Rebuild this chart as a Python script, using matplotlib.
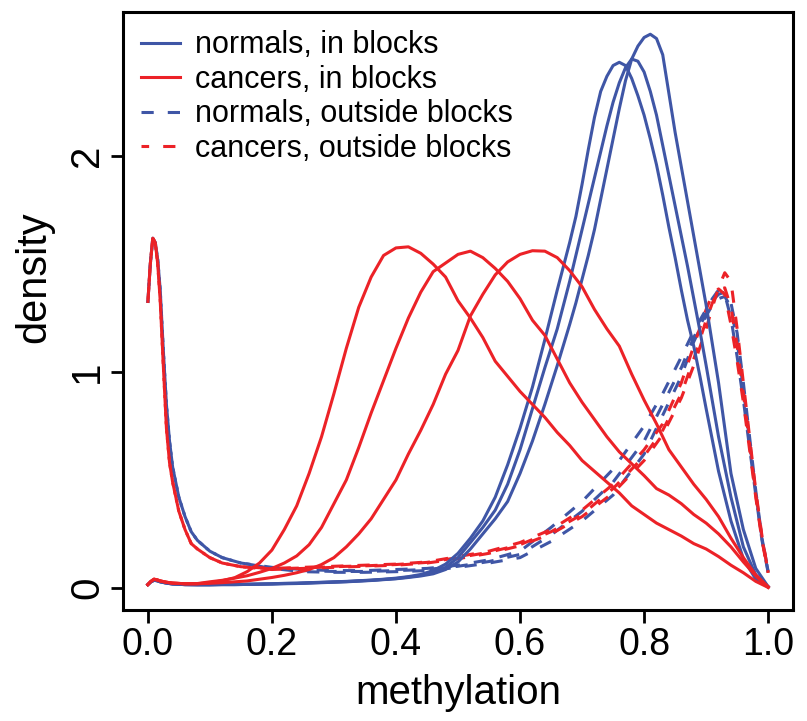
import matplotlib
matplotlib.use("Agg")
import matplotlib.pyplot as plt
import numpy as np

plt.rcParams['font.family'] = ['Liberation Sans', 'DejaVu Sans']

"""DATA (read off the reference picture)"""
# Methylation grid for the normal in-blocks curves (finer around the peaks)
xNormalsIn = [0.0, 0.005, 0.01, 0.015, 0.02, 0.03, 0.04, 0.06, 0.08,
              0.10, 0.12, 0.14, 0.16, 0.18, 0.20, 0.22, 0.24, 0.26, 0.28, 0.30, 0.32, 0.34, 0.36, 0.38,
              0.40, 0.42, 0.44, 0.46, 0.48, 0.50, 0.52, 0.54, 0.56, 0.58, 0.60, 0.62, 0.64, 0.66, 0.68,
              0.69, 0.70, 0.71, 0.72, 0.73, 0.74, 0.75, 0.76, 0.77, 0.78, 0.79, 0.80, 0.81, 0.82, 0.83,
              0.84, 0.85, 0.86, 0.87, 0.88, 0.89, 0.90, 0.92, 0.94, 0.96, 0.98, 1.0]

# Normals, in blocks (3 samples)
normalsInA = [0.015, 0.028, 0.035, 0.033, 0.028, 0.022, 0.018, 0.015, 0.015,
              0.015, 0.016, 0.016, 0.017, 0.018, 0.019, 0.021, 0.022, 0.024, 0.026, 0.028, 0.030, 0.033, 0.036, 0.040,
              0.045, 0.052, 0.062, 0.080, 0.110, 0.160, 0.230, 0.310, 0.420, 0.570, 0.740, 0.930, 1.150, 1.380, 1.600,
              1.72, 1.87, 2.03, 2.18, 2.30, 2.37, 2.42, 2.435, 2.42, 2.36, 2.28, 2.19, 2.08, 1.96, 1.82,
              1.67, 1.53, 1.38, 1.24, 1.12, 0.98, 0.83, 0.54, 0.31, 0.135, 0.04, 0.005]
normalsInB = [0.015, 0.028, 0.035, 0.033, 0.028, 0.022, 0.018, 0.015, 0.014,
              0.014, 0.015, 0.015, 0.016, 0.017, 0.018, 0.020, 0.021, 0.023, 0.025, 0.027, 0.029, 0.032, 0.035, 0.039,
              0.043, 0.050, 0.058, 0.070, 0.095, 0.140, 0.210, 0.280, 0.360, 0.480, 0.640, 0.830, 1.020, 1.200, 1.420,
              1.54, 1.66, 1.78, 1.90, 2.02, 2.14, 2.25, 2.34, 2.41, 2.45, 2.44, 2.39, 2.30, 2.19, 2.05,
              1.91, 1.77, 1.63, 1.49, 1.34, 1.19, 1.03, 0.70, 0.42, 0.19, 0.06, 0.005]
normalsInC = [0.015, 0.028, 0.035, 0.033, 0.028, 0.022, 0.018, 0.015, 0.014,
              0.014, 0.015, 0.015, 0.016, 0.017, 0.018, 0.019, 0.020, 0.022, 0.024, 0.026, 0.028, 0.031, 0.034, 0.038,
              0.042, 0.048, 0.055, 0.065, 0.085, 0.120, 0.180, 0.250, 0.320, 0.400, 0.530, 0.680, 0.850, 1.030, 1.220,
              1.32, 1.43, 1.54, 1.66, 1.80, 1.94, 2.08, 2.22, 2.35, 2.45, 2.51, 2.55, 2.565, 2.545, 2.47,
              2.29, 2.11, 1.95, 1.79, 1.63, 1.47, 1.31, 0.95, 0.53, 0.27, 0.09, 0.005]

# Methylation grid for the cancer in-blocks curves
xCancersIn = [0.0, 0.005, 0.01, 0.015, 0.02, 0.03, 0.04, 0.06, 0.08,
              0.10, 0.12, 0.14, 0.16, 0.18, 0.20, 0.22, 0.24, 0.26, 0.28, 0.30, 0.32, 0.34, 0.36, 0.38,
              0.40, 0.42, 0.44, 0.46, 0.48, 0.50, 0.52, 0.54, 0.56, 0.58, 0.60, 0.62, 0.64, 0.66, 0.68,
              0.70, 0.72, 0.74, 0.76, 0.78, 0.80, 0.82, 0.84, 0.86, 0.88, 0.90, 0.92, 0.94, 0.96, 0.98, 1.0]

# Cancers, in blocks (3 samples)
cancersInA = [0.015, 0.030, 0.040, 0.037, 0.032, 0.026, 0.022, 0.019, 0.019,
              0.024, 0.033, 0.047, 0.075, 0.115, 0.175, 0.270, 0.380, 0.530, 0.700, 0.900, 1.110, 1.300, 1.440, 1.540,
              1.575, 1.580, 1.550, 1.500, 1.440, 1.330, 1.250, 1.160, 1.050, 0.980, 0.910, 0.850, 0.790, 0.720, 0.660,
              0.590, 0.540, 0.490, 0.440, 0.380, 0.340, 0.300, 0.270, 0.240, 0.205, 0.180, 0.145, 0.105, 0.070, 0.030, 0.002]
cancersInB = [0.015, 0.030, 0.040, 0.037, 0.032, 0.026, 0.022, 0.019, 0.020,
              0.028, 0.035, 0.045, 0.056, 0.072, 0.090, 0.115, 0.148, 0.200, 0.280, 0.390, 0.500, 0.650, 0.810, 0.960,
              1.110, 1.250, 1.370, 1.465, 1.505, 1.545, 1.560, 1.530, 1.480, 1.420, 1.340, 1.240, 1.170, 1.060, 0.950,
              0.860, 0.780, 0.700, 0.630, 0.575, 0.520, 0.460, 0.430, 0.390, 0.340, 0.300, 0.250, 0.190, 0.120, 0.055, 0.002]
cancersInC = [0.015, 0.030, 0.040, 0.037, 0.032, 0.026, 0.022, 0.019, 0.019,
              0.021, 0.024, 0.028, 0.032, 0.040, 0.048, 0.058, 0.070, 0.085, 0.108, 0.140, 0.190, 0.250, 0.320, 0.410,
              0.500, 0.620, 0.730, 0.850, 0.990, 1.100, 1.260, 1.360, 1.450, 1.510, 1.545, 1.562, 1.560, 1.530, 1.470,
              1.395, 1.290, 1.200, 1.120, 0.990, 0.870, 0.760, 0.640, 0.560, 0.480, 0.410, 0.330, 0.230, 0.140, 0.060, 0.005]

# Methylation grid for the outside-blocks curves
xDashed = [0.0, 0.004, 0.008, 0.012, 0.016, 0.02, 0.025, 0.03, 0.035, 0.04, 0.05, 0.06, 0.07, 0.08,
           0.1, 0.12, 0.15, 0.2, 0.25, 0.3, 0.35, 0.4, 0.45, 0.5, 0.55, 0.6, 0.65, 0.7, 0.75,
           0.8, 0.83, 0.86, 0.88, 0.9, 0.91, 0.92, 0.93, 0.94, 0.95, 0.96, 0.97, 0.98, 0.99, 1.0]

# Normals, outside blocks
normalsOutA = [1.32, 1.5, 1.62, 1.6, 1.52, 1.38, 1.1, 0.85, 0.68, 0.56, 0.42, 0.33, 0.26, 0.22,
               0.17, 0.14, 0.115, 0.095, 0.085, 0.08, 0.08, 0.085, 0.09, 0.105, 0.13, 0.17, 0.28, 0.4, 0.55,
               0.75, 0.9, 1.07, 1.19, 1.29, 1.34, 1.38, 1.36, 1.25, 1.07, 0.87, 0.65, 0.43, 0.22, 0.07]
normalsOutB = [1.32, 1.5, 1.62, 1.6, 1.52, 1.38, 1.1, 0.85, 0.68, 0.56, 0.42, 0.33, 0.26, 0.22,
               0.17, 0.14, 0.115, 0.09, 0.075, 0.072, 0.072, 0.075, 0.08, 0.095, 0.115, 0.14, 0.215, 0.31, 0.43,
               0.62, 0.8, 0.98, 1.14, 1.26, 1.31, 1.34, 1.35, 1.3, 1.14, 0.92, 0.68, 0.44, 0.23, 0.08]
normalsOutC = [1.32, 1.5, 1.62, 1.6, 1.52, 1.38, 1.1, 0.85, 0.68, 0.56, 0.42, 0.33, 0.26, 0.22,
               0.17, 0.14, 0.115, 0.092, 0.08, 0.076, 0.076, 0.08, 0.085, 0.1, 0.122, 0.155, 0.245, 0.355, 0.49,
               0.68, 0.85, 1.02, 1.16, 1.27, 1.33, 1.36, 1.37, 1.32, 1.18, 0.95, 0.7, 0.45, 0.23, 0.075]

# Cancers, outside blocks
cancersOutA = [1.32, 1.5, 1.62, 1.6, 1.5, 1.33, 1.03, 0.74, 0.58, 0.49, 0.355, 0.27, 0.205, 0.18,
               0.14, 0.115, 0.098, 0.09, 0.095, 0.1, 0.105, 0.11, 0.12, 0.145, 0.17, 0.21, 0.27, 0.36, 0.48,
               0.64, 0.76, 0.95, 1.12, 1.29, 1.36, 1.385, 1.36, 1.22, 1.05, 0.86, 0.64, 0.42, 0.22, 0.07]
cancersOutB = [1.32, 1.5, 1.62, 1.6, 1.5, 1.33, 1.03, 0.74, 0.58, 0.49, 0.355, 0.27, 0.205, 0.18,
               0.14, 0.115, 0.098, 0.085, 0.09, 0.095, 0.1, 0.105, 0.115, 0.135, 0.16, 0.195, 0.25, 0.33, 0.44,
               0.59, 0.71, 0.88, 1.03, 1.2, 1.3, 1.39, 1.46, 1.42, 1.2, 0.95, 0.7, 0.45, 0.24, 0.07]
cancersOutC = [1.32, 1.5, 1.62, 1.6, 1.5, 1.33, 1.03, 0.74, 0.58, 0.49, 0.355, 0.27, 0.205, 0.18,
               0.14, 0.115, 0.098, 0.088, 0.092, 0.098, 0.102, 0.108, 0.118, 0.14, 0.165, 0.2, 0.26, 0.34, 0.46,
               0.61, 0.73, 0.9, 1.06, 1.24, 1.32, 1.38, 1.39, 1.3, 1.12, 0.9, 0.67, 0.43, 0.23, 0.07]

legendLabels = ["normals, in blocks", "cancers, in blocks",
                "normals, outside blocks", "cancers, outside blocks"]
xTicks = [0.0, 0.2, 0.4, 0.6, 0.8, 1.0]
yTicks = [0, 1, 2]

"""PLOT"""
blue = "#3F56A6"
red = "#EC2227"
lineWidth = 2.2
dashPattern = (4.0, 4.6)

fig = plt.figure(figsize=(8.07, 7.21), dpi=100)
ax = fig.add_axes([123 / 807, 1 - 610 / 721, 670 / 807, 598 / 721])

# Outside blocks first (dashed), dash offsets shifted so overlapping curves interleave
for i, yValues in enumerate([normalsOutA, normalsOutB, normalsOutC]):
    ax.plot(xDashed, yValues, color=blue, lw=lineWidth, linestyle=(i * 3.0, dashPattern),
            dash_capstyle="butt", label=legendLabels[2] if i == 0 else None)
for i, yValues in enumerate([cancersOutA, cancersOutB, cancersOutC]):
    ax.plot(xDashed, yValues, color=red, lw=lineWidth, linestyle=(i * 3.0 + 1.5, dashPattern),
            dash_capstyle="butt", label=legendLabels[3] if i == 0 else None)

# In blocks (solid)
for i, yValues in enumerate([normalsInA, normalsInB, normalsInC]):
    ax.plot(xNormalsIn, yValues, color=blue, lw=lineWidth, solid_joinstyle="round",
            label=legendLabels[0] if i == 0 else None)
for i, yValues in enumerate([cancersInA, cancersInB, cancersInC]):
    ax.plot(xCancersIn, yValues, color=red, lw=lineWidth, solid_joinstyle="round",
            label=legendLabels[1] if i == 0 else None)

ax.set_xlim(-0.04, 1.04)
ax.set_ylim(-0.1026, 2.668)
ax.set_xticks(xTicks)
ax.set_xticklabels(["%.1f" % t for t in xTicks])
ax.set_yticks(yTicks)
ax.set_yticklabels([str(t) for t in yTicks])

for spine in ax.spines.values():
    spine.set_linewidth(2.2)
ax.tick_params(axis="both", direction="out", length=9, width=2.0, pad=3)
ax.tick_params(axis="x", labelsize=27)
ax.tick_params(axis="y", labelsize=29)
for label in ax.get_yticklabels():
    label.set_rotation(90)
    label.set_va("center")

ax.set_xlabel("methylation", fontsize=29, labelpad=8)
ax.set_ylabel("density", fontsize=30)
ax.yaxis.set_label_coords(-0.102, 0.557)

# Legend in the R order
handles, labels = ax.get_legend_handles_labels()
order = [labels.index(l) for l in legendLabels]
leg = ax.legend([handles[k] for k in order], [labels[k] for k in order],
                loc="upper left", frameon=False, fontsize=22, handlelength=1.25,
                handletextpad=0.5, labelspacing=0.15, borderaxespad=0.2)

fig.savefig("out.png", dpi=100)
